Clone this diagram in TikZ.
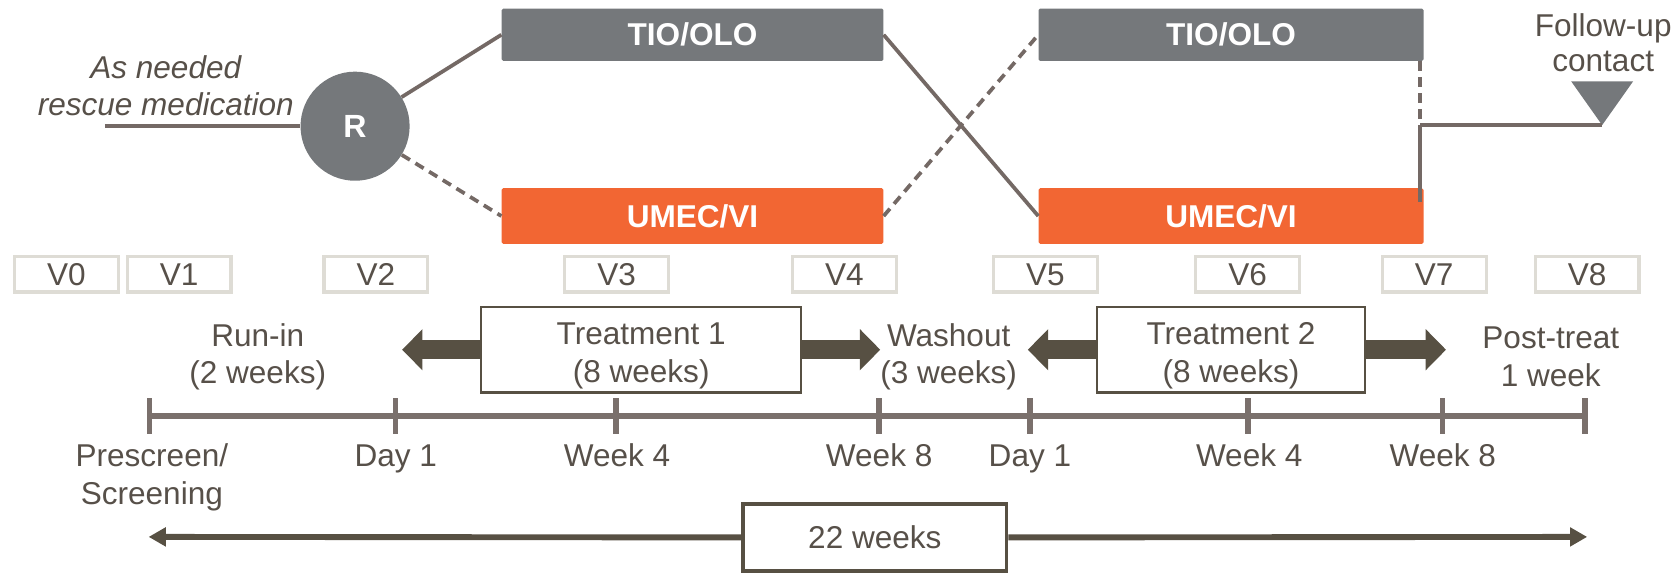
\documentclass[tikz,border=0pt]{standalone}
\usepackage{fontspec}
\setmainfont{Liberation Sans}
\usetikzlibrary{arrows.meta}
\definecolor{txt}{HTML}{575049}
\definecolor{armgray}{HTML}{75787B}
\definecolor{armorange}{HTML}{F26633}
\definecolor{linec}{HTML}{746965}
\definecolor{arrowc}{HTML}{575043}
\definecolor{tlc}{HTML}{7A706C}
\definecolor{visgray}{HTML}{DEDCD5}
\begin{document}
\begin{tikzpicture}[x=1pt,y=-1pt,
  txtf/.style={font=\fontsize{29.5}{35}\selectfont, text=txt, align=center, inner sep=0pt},
  armbox/.style={minimum height=49pt, inner sep=0pt, rounded corners=1.5pt,
     font=\fontsize{29.5}{34.5}\selectfont\bfseries, text=white},
  armg/.style={armbox, fill=armgray},
  armo/.style={armbox, fill=armorange, minimum height=52pt},
  conn/.style={draw=linec, line width=3.5pt},
  dconn/.style={conn, dash pattern=on 9pt off 6pt},
  visit/.style={draw=visgray, line width=3pt, fill=white, minimum width=97pt,
     minimum height=33pt, inner sep=0pt, font=\fontsize{29.5}{34.5}\selectfont, text=txt},
  trbox/.style={draw=arrowc, line width=2pt, fill=white, minimum height=80pt, inner sep=0pt,
     font=\fontsize{29.5}{35}\selectfont, text=txt, align=center},
  blk/.style={draw=arrowc, line width=17.5pt, -{Triangle[length=19pt,width=37.4pt]}},
  tl/.style={draw=tlc, line width=5.5pt},
  tickm/.style={draw=tlc, line width=5pt},
  dbl/.style={draw=arrowc, line width=5.5pt, -{Triangle[length=16pt,width=17pt]}},
  wkbox/.style={draw=arrowc, line width=3.5pt, fill=white, minimum width=246pt, minimum height=63pt,
     inner sep=0pt, font=\fontsize{29.5}{34.5}\selectfont, text=txt}
]
\useasboundingbox (0,0) rectangle (1568,537);

% arms
\node[armg, minimum width=357pt] (g1) at (647.5,32.5) {TIO/OLO};
\node[armg, minimum width=360pt] (g2) at (1151,32.5) {TIO/OLO};
\node[armo, minimum width=357pt] (o1) at (647.5,202) {UMEC/VI};
\node[armo, minimum width=360pt] (o2) at (1151,202) {UMEC/VI};

% randomisation
\node[circle, fill=armgray, minimum size=102pt, inner sep=0pt, text=white,
      font=\fontsize{30}{34}\selectfont\bfseries] (R) at (332,118) {R};
\coordinate (rin) at (98,118);
\node[txtf, font=\fontsize{29.5}{34.5}\selectfont\itshape] (resc) at (155,80.5) {As needed\\rescue medication};

\draw[conn] (rin) -- (R.west);
\draw[conn] (R) -- (g1.west);
\draw[dconn] (R) -- (o1.west);
\draw[conn] (g1.east) -- (o2.west);
\draw[dconn] (o1.east) -- (g2.west);

% follow-up
\coordinate (jt) at (1328,57);
\coordinate (jm) at (1328,117);
\coordinate (jb) at (1328,189);
\coordinate (fuapex) at (1498,117);
\fill[armgray] (1469,76) -- (1527,76) -- (fuapex) -- cycle;
\draw[dconn] (jt) -- (jm);
\draw[conn] (jm) -- (jb);
\draw[conn] (jm) -- (fuapex);
\node[txtf, font=\fontsize{29.5}{33.5}\selectfont] (fu) at (1499,40) {Follow-up\\contact};

% visits
\node[visit] (v0) at (62,256.5) {V0};
\node[visit] (v1) at (167.5,256.5) {V1};
\node[visit] (v2) at (351.5,256.5) {V2};
\node[visit] (v3) at (576.5,256.5) {V3};
\node[visit] (v4) at (789.5,256.5) {V4};
\node[visit] (v5) at (977.5,256.5) {V5};
\node[visit] (v6) at (1166.5,256.5) {V6};
\node[visit] (v7) at (1341,256.5) {V7};
\node[visit] (v8) at (1484,256.5) {V8};

% periods
\node[txtf] (runin) at (241,333.5) {Run-in\\(2 weeks)};
\node[txtf] (wash) at (887,333.5) {Washout\\(3 weeks)};
\node[txtf] (post) at (1450,333.5) {Post-treat\\1 week};
\node[trbox, minimum width=299pt] (tr1) at (599.5,327) {\rule{0pt}{32pt}Treatment 1\\(8 weeks)};
\node[trbox, minimum width=250pt] (tr2) at (1151,327) {\rule{0pt}{32pt}Treatment 2\\(8 weeks)};
\coordinate (a1) at (376,327);
\coordinate (a2) at (823,327);
\coordinate (a3) at (961,327);
\coordinate (a4) at (1352,327);
\draw[blk] (tr1.west) -- (a1);
\draw[blk] (tr1.east) -- (a2);
\draw[blk] (tr2.west) -- (a3);
\draw[blk] (tr2.east) -- (a4);

% timeline
\coordinate (t0) at (140,389);
\coordinate (t1) at (370,389);
\coordinate (t2) at (576,389);
\coordinate (t3) at (822,389);
\coordinate (t4) at (963,389);
\coordinate (t5) at (1167,389);
\coordinate (t6) at (1349,389);
\coordinate (t7) at (1482,389);
\draw[tl] (t0) -- (t7);
\foreach \n in {0,...,7} \draw[tickm] (t\n) ++(0,-16.5) -- ++(0,33);

\node[txtf, font=\fontsize{29.5}{36}\selectfont] (l0) at (142,446.5) {Prescreen/\\Screening};
\node[txtf, anchor=base] (l1) at (370,436) {Day 1};
\node[txtf, anchor=base] (l2) at (577,436) {Week 4};
\node[txtf, anchor=base] (l3) at (822,436) {Week 8};
\node[txtf, anchor=base] (l4) at (963,436) {Day 1};
\node[txtf, anchor=base] (l5) at (1168,436) {Week 4};
\node[txtf, anchor=base] (l6) at (1349,436) {Week 8};

% total duration
\coordinate (bl) at (139,502);
\coordinate (br) at (1484,502);
\node[wkbox] (wk) at (818,502.5) {22 weeks};
\draw[dbl] (wk.west) -- (bl);
\draw[dbl] (wk.east) -- (br);
\node[wkbox] at (wk) {22 weeks};
\end{tikzpicture}
\end{document}
